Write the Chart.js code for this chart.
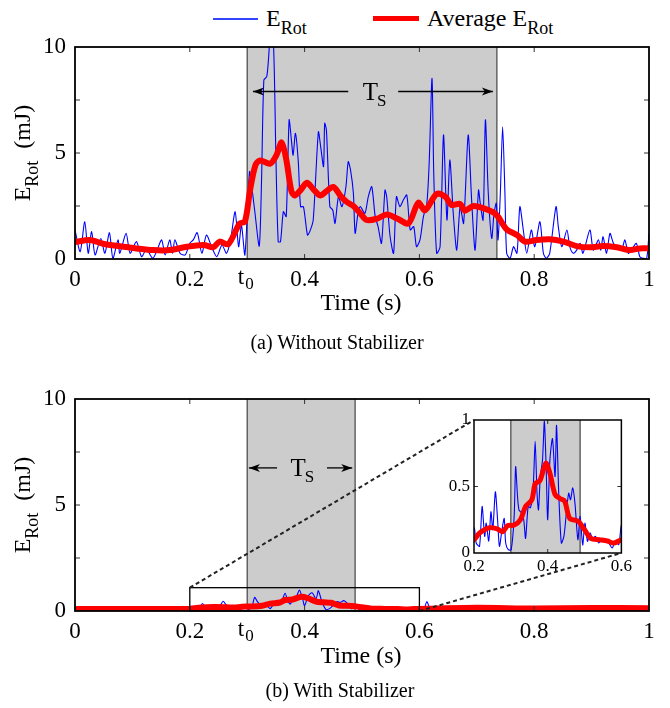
<!DOCTYPE html>
<html><head><meta charset="utf-8">
<script src="https://cdn.jsdelivr.net/npm/chart.js@4/dist/chart.umd.min.js"></script>
<style>
body{margin:0;background:#fff;width:670px;height:708px;position:relative;overflow:hidden;font-family:"Liberation Serif","Times New Roman",serif;color:#000}
.t{position:absolute;white-space:nowrap;line-height:1}
.c{transform:translate(-50%,-50%)}
.r{transform:translate(-50%,-50%) rotate(-90deg)}
sub{font-size:75%;vertical-align:-0.45em;line-height:0}
canvas{position:absolute}
</style></head><body>
<div class="t" style="left:213px;top:18px;width:45px;height:1.5px;background:#3344ff"></div>
<div class="t" style="left:266px;top:6px;font-size:24px">E<sub>Rot</sub></div>
<div class="t" style="left:373px;top:16px;width:46px;height:5px;background:#ff0000"></div>
<div class="t" style="left:427px;top:6px;font-size:24px">Average E<sub>Rot</sub></div>

<canvas id="cA" width="670" height="320" style="left:0;top:0"></canvas>
<canvas id="cB" width="670" height="320" style="left:0;top:355px"></canvas>
<canvas id="cI" width="205" height="175" style="left:430px;top:405px"></canvas>

<div class="t r" style="left:22px;top:153px;font-size:24px">E<sub>Rot</sub>&nbsp; (mJ)</div>
<div class="t r" style="left:22px;top:505px;font-size:24px">E<sub>Rot</sub>&nbsp; (mJ)</div>
<div class="t c" style="left:361px;top:302px;font-size:24px">Time (s)</div>
<div class="t c" style="left:361px;top:655px;font-size:24px">Time (s)</div>
<div class="t c" style="left:337px;top:342px;font-size:20px">(a) Without Stabilizer</div>
<div class="t c" style="left:340px;top:690px;font-size:20px">(b) With Stabilizer</div>

<script>
// ---------- data ----------
const xTicks = [0, 0.2, 0.4, 0.6, 0.8, 1];
const yTicks = [0, 5, 10];
const yMinorTicks = [2.5, 5, 7.5];
const insetXTicks = [0.2, 0.4, 0.6];
const insetYTicks = [0, 0.5, 1];
const t0 = 0.3;

// (a) without stabilizer: raw E_Rot
const tTopRaw = [0,0.009,0.017,0.023,0.029,0.035,0.045,0.052,0.060,0.066,0.075,0.078,0.089,0.096,0.107,0.116,0.125,0.131,0.136,0.143,0.151,0.157,0.165,0.170,0.174,0.183,0.192,0.200,0.206,0.213,0.221,0.229,0.238,0.247,0.256,0.264,0.271,0.279,0.285,0.290,0.296,
0.304,0.308,0.313,0.321,0.325,0.329,0.334,0.337,0.341,0.346,0.350,0.354,0.358,0.363,0.368,0.373,0.377,0.380,0.384,0.389,0.393,0.398,0.405,0.409,0.415,0.424,0.428,0.433,0.435,0.438,0.444,0.449,0.453,0.459,0.465,0.472,0.476,0.480,0.485,0.488,0.493,0.497,
0.505,0.511,0.517,0.523,0.528,0.534,0.540,0.543,0.549,0.555,0.560,0.566,0.572,0.578,0.584,0.590,0.595,0.601,0.607,0.613,0.617,0.622,0.625,0.630,0.636,0.642,0.648,0.653,0.659,0.665,0.671,0.677,0.685,0.691,0.697,0.703,0.706,0.711,0.715,0.720,0.726,0.730,0.734,0.737,0.741,0.745,0.749,
0.752,0.758,0.764,0.770,0.775,0.781,0.787,0.795,0.801,0.810,0.816,0.821,0.827,0.838,0.842,0.848,0.857,0.862,0.868,0.874,0.880,0.885,0.897,0.903,0.912,0.916,0.920,0.926,0.932,0.938,0.944,0.952,0.958,0.964,0.971,0.978,0.984,0.990,0.996,1.0];
const eTopRaw = [1.37,0.35,1.76,0.27,1.29,0.19,0.97,0.27,1.24,0.03,0.9,0.27,1.21,0.27,0.82,0.11,0.5,0.19,0.03,0.42,0.9,0.19,0.9,0.27,0.9,0.27,0.19,0.74,0.9,1.24,0.27,1.13,0.58,0.11,0.66,0.27,0.9,2.23,0.58,1.6,0.19,
4.12,3.4,2.3,0.61,3.73,8.44,8.6,9.39,10.8,10.0,4.83,0.82,0.82,2.23,2.0,6.56,5.61,4.9,5.93,4.59,2.47,2.47,1.13,1.29,1.84,6.0,5.3,4.36,6.4,6.08,2.47,2.31,1.68,2.94,2.47,3.41,4.59,4.2,3.1,1.21,2.15,2.47,
2.15,2.94,3.41,2.0,1.53,0.74,3.25,2.94,1.05,0.27,2.94,2.47,2.78,3.02,1.37,1.53,0.58,0.9,2.0,2.63,4.51,8.52,4.04,0.27,0.58,5.85,1.84,4.67,2.15,0.42,2.47,1.68,5.85,2.78,0.42,3.25,2.63,1.84,6.56,3.1,0.97,2.15,2.63,0.9,3.1,6.24,3.1,
0.27,0.03,0.58,0.27,2.47,1.37,0.27,1.37,0.58,1.76,0.27,0.03,0.27,2.47,1.53,0.58,1.37,0.58,0.27,0.42,0.74,0.27,1.37,0.42,0.9,0.42,1.05,0.27,1.21,0.74,0.58,0.42,0.9,0.27,0.5,0.74,0.11,0.03,0.03,1.21];

// (a) average E_Rot
const tTopAvg = [0,0.026,0.049,0.078,0.107,0.136,0.165,0.195,0.224,0.241,0.252,0.267,0.287,0.296,0.305,0.314,0.322,0.340,0.351,0.360,0.368,0.377,0.383,0.393,0.404,0.415,0.427,0.438,0.450,0.462,0.473,0.485,0.497,0.508,0.526,0.543,0.562,0.581,0.598,0.610,0.630,0.645,0.656,0.671,0.679,0.694,0.711,0.729,0.737,0.752,0.770,0.784,0.804,0.827,0.851,0.874,0.897,0.920,0.944,0.967,0.984,1.0];
const eTopAvg = [0.8,0.9,0.72,0.6,0.5,0.42,0.42,0.58,0.66,0.56,0.82,0.7,1.68,1.76,3.25,4.4,4.65,4.5,4.9,5.5,4.7,3.2,3.0,3.25,3.6,3.3,3.0,3.2,3.4,3.0,2.7,2.5,2.15,1.84,1.9,2.1,1.9,1.68,2.65,2.3,3.07,2.94,2.55,2.6,2.28,2.5,2.4,2.2,2.0,1.4,1.13,0.82,0.9,0.93,0.82,0.61,0.55,0.61,0.55,0.42,0.5,0.5];

// (b) with stabilizer: raw E_Rot
const tBotRaw = [0,0.02,0.04,0.06,0.08,0.10,0.12,0.14,0.16,0.18,
0.2,0.206,0.215,0.222,0.229,0.233,0.24,0.246,0.251,0.258,0.264,0.269,0.276,0.282,0.286,0.293,0.301,0.309,0.313,0.318,0.322,0.329,0.335,0.34,0.347,0.353,0.36,0.366,0.371,0.375,0.38,0.386,0.391,0.396,0.4,0.406,0.413,0.42,0.424,0.43,0.437,0.444,0.451,0.457,0.462,0.468,0.474,0.482,0.488,0.495,0.501,0.508,0.515,0.522,0.53,0.539,0.548,0.557,0.566,0.575,0.584,0.593,0.6,
0.608,0.613,0.62,0.64,0.66,0.68,0.70,0.72,0.74,0.76,0.78,0.80,0.82,0.84,0.86,0.88,0.90,0.92,0.94,0.96,0.98,1.0];
const eBotRaw = [0.08,0.12,0.05,0.1,0.04,0.09,0.14,0.05,0.1,0.06,
0.19,0.075,0.05,0.35,0.125,0.225,0.09,0.31,0.175,0.46,0.25,0.05,0.175,0.26,0.075,0.025,0.025,0.275,0.65,0.43,0.325,0.3,0.25,0.11,0.35,0.34,0.45,0.84,0.45,0.325,0.575,0.7,0.99,0.625,0.25,0.7,0.86,0.575,0.96,0.45,0.075,0.125,0.31,0.45,0.4,0.49,0.375,0.1,0.275,0.06,0.225,0.088,0.15,0.11,0.125,0.075,0.11,0.088,0.075,0.038,0.088,0.063,0.21,
0.1,0.44,0.08,0.12,0.06,0.15,0.1,0.22,0.08,0.18,0.05,0.12,0.2,0.1,0.15,0.05,0.18,0.08,0.16,0.06,0.2,0.1];

// (b) average E_Rot
const tBotAvg = [0,0.1,0.18,0.2,0.215,0.242,0.264,0.278,0.291,0.309,0.326,0.34,0.357,0.366,0.379,0.395,0.406,0.42,0.433,0.446,0.46,0.482,0.5,0.517,0.54,0.562,0.58,0.6,0.62,0.7,0.8,0.9,1.0];
const eBotAvg = [0.1,0.1,0.1,0.1,0.15,0.19,0.18,0.16,0.205,0.21,0.25,0.35,0.4,0.52,0.545,0.675,0.6,0.44,0.41,0.39,0.26,0.24,0.175,0.11,0.1,0.09,0.075,0.1,0.11,0.15,0.12,0.14,0.13];

const shadeTop = [0.3, 0.735];
const shadeBot = [0.3, 0.488];
const arrowTop = {y: 7.9, left: [0.476, 0.31], right: [0.563, 0.728], label: 0.523};
const arrowBot = {y: 6.75, left: [0.352, 0.303], right: [0.439, 0.483], label: 0.397};
const zoomWin = [0.2, 0.6];
const zoomMaxE = 1.1;

// ---------- helpers ----------
const SERIF = '"Liberation Serif","Times New Roman",serif';
Chart.defaults.font.family = SERIF;
Chart.defaults.color = '#000';
const pts = (t, e) => t.map((v, i) => ({x: v, y: e[i]}));
const fmt = v => String(Number(v.toFixed(2)));

function arrow(ctx, x1, x2, y) {
  ctx.beginPath(); ctx.moveTo(x1, y); ctx.lineTo(x2, y); ctx.stroke();
  const d = Math.sign(x2 - x1);
  ctx.beginPath(); ctx.moveTo(x2, y); ctx.lineTo(x2 - d * 11, y - 4); ctx.lineTo(x2 - d * 8, y); ctx.lineTo(x2 - d * 11, y + 4); ctx.closePath(); ctx.fill();
}

const decor = {
  id: 'decor',
  beforeDatasetsDraw(chart, args, o) {
    const {ctx, chartArea: a, scales: {x}} = chart;
    ctx.save();
    if (o.bg) { ctx.fillStyle = '#fff'; ctx.fillRect(a.left, a.top, a.width, a.height); }
    const x0 = x.getPixelForValue(o.shade[0]), x1 = x.getPixelForValue(o.shade[1]);
    ctx.fillStyle = '#cccccc'; ctx.fillRect(x0, a.top, x1 - x0, a.height);
    ctx.strokeStyle = '#444'; ctx.lineWidth = 1.2;
    [x0, x1].forEach(p => { ctx.beginPath(); ctx.moveTo(p, a.top); ctx.lineTo(p, a.bottom); ctx.stroke(); });
    ctx.restore();
  },
  afterDatasetsDraw(chart, args, o) {
    const {ctx, chartArea: a, scales: {x, y}} = chart;
    ctx.save();
    ctx.strokeStyle = '#333'; ctx.lineWidth = 1;
    o.xt.forEach(v => { const p = x.getPixelForValue(v); if (p <= a.left + 1 || p >= a.right - 1) return;
      ctx.beginPath(); ctx.moveTo(p, a.bottom); ctx.lineTo(p, a.bottom - o.tl); ctx.moveTo(p, a.top); ctx.lineTo(p, a.top + o.tl); ctx.stroke(); });
    o.yt.forEach(v => { const p = y.getPixelForValue(v); if (p <= a.top + 1 || p >= a.bottom - 1) return;
      ctx.beginPath(); ctx.moveTo(a.left, p); ctx.lineTo(a.left + o.tl, p); ctx.moveTo(a.right, p); ctx.lineTo(a.right - o.tl, p); ctx.stroke(); });
    if (o.zoom) {
      const zx0 = x.getPixelForValue(zoomWin[0]), zx1 = x.getPixelForValue(zoomWin[1]);
      const zy0 = y.getPixelForValue(0), zy1 = y.getPixelForValue(zoomMaxE);
      ctx.strokeStyle = '#000'; ctx.lineWidth = 1.3;
      ctx.strokeRect(zx0, zy1, zx1 - zx0, zy0 - zy1);
      const ia = insetChart.chartArea, dx = 430, dy = 405 - 355;
      ctx.setLineDash([4, 3]); ctx.lineWidth = 2; ctx.strokeStyle = '#222';
      ctx.beginPath(); ctx.moveTo(zx0, zy1); ctx.lineTo(ia.left + dx, ia.top + dy); ctx.stroke();
      ctx.beginPath(); ctx.moveTo(zx1, zy0); ctx.lineTo(ia.right + dx, ia.bottom + dy); ctx.stroke();
      ctx.setLineDash([]);
    }
    ctx.strokeStyle = '#000'; ctx.lineWidth = o.fw;
    ctx.strokeRect(a.left, a.top, a.width, a.height);
    if (o.arrow) {
      const ar = o.arrow, py = y.getPixelForValue(ar.y);
      ctx.fillStyle = '#000'; ctx.strokeStyle = '#000'; ctx.lineWidth = 1.3;
      arrow(ctx, x.getPixelForValue(ar.left[0]), x.getPixelForValue(ar.left[1]), py);
      arrow(ctx, x.getPixelForValue(ar.right[0]), x.getPixelForValue(ar.right[1]), py);
      ctx.font = `25px ${SERIF}`; const wT = ctx.measureText('T').width;
      ctx.font = `17px ${SERIF}`; const wS = ctx.measureText('S').width;
      const cx = x.getPixelForValue(ar.label) - (wT + wS) / 2;
      ctx.textBaseline = 'alphabetic'; ctx.textAlign = 'left';
      ctx.font = `25px ${SERIF}`; ctx.fillText('T', cx, py + 8.5);
      ctx.font = `17px ${SERIF}`; ctx.fillText('S', cx + wT - 1, py + 14);
    }
    if (o.t0) {
      const p = x.getPixelForValue(t0), ty = a.bottom + o.tp;
      ctx.font = `${o.fs}px ${SERIF}`; const wt = ctx.measureText('t').width;
      ctx.font = `${Math.round(o.fs * 0.72)}px ${SERIF}`; const w0 = ctx.measureText('0').width;
      const sx = p - (wt + w0) / 2 - 2;
      ctx.textBaseline = 'top'; ctx.textAlign = 'left'; ctx.fillStyle = '#000';
      ctx.font = `${o.fs}px ${SERIF}`; ctx.fillText('t', sx, ty);
      ctx.font = `${Math.round(o.fs * 0.72)}px ${SERIF}`; ctx.fillText('0', sx + wt + 1, ty + o.fs * 0.42);
    }
    ctx.restore();
  }
};

function mainChart(id, raw, avg, shade, arrowCfg, padTop, axisH, zoom) {
  return new Chart(document.getElementById(id), {
    type: 'line',
    data: { datasets: [
      { data: avg, borderColor: '#ff0000', borderWidth: 6, pointRadius: 0, tension: 0.3, order: 0, borderJoinStyle: 'round', borderCapStyle: 'round' },
      { data: raw, borderColor: '#0000ff', borderWidth: 1.1, pointRadius: 0, tension: 0.25, order: 1 }
    ]},
    options: {
      responsive: false, animation: false, events: [],
      layout: { padding: { top: padTop, right: 21, left: 0, bottom: 0 } },
      plugins: { legend: { display: false }, tooltip: { enabled: false },
        decor: { shade, arrow: arrowCfg, xt: xTicks, yt: yMinorTicks, tl: 5, fw: 1.8, t0: true, tp: 7, fs: 23, zoom } },
      scales: {
        x: { type: 'linear', min: 0, max: 1,
          afterBuildTicks: s => { s.ticks = xTicks.map(v => ({value: v})); },
          ticks: { callback: fmt, font: { size: 23 }, padding: 7, maxRotation: 0, autoSkip: false },
          grid: { display: false, drawTicks: false }, border: { display: false },
          afterFit: s => { s.height = axisH; } },
        y: { type: 'linear', min: 0, max: 10,
          afterBuildTicks: s => { s.ticks = yTicks.map(v => ({value: v})); },
          ticks: { callback: fmt, font: { size: 23 }, padding: 9 },
          grid: { display: false, drawTicks: false }, border: { display: false },
          afterFit: s => { s.width = 75; } }
      }
    },
    plugins: [decor]
  });
}

const insetChart = new Chart(document.getElementById('cI'), {
  type: 'line',
  data: { datasets: [
    { data: pts(tBotAvg, eBotAvg), borderColor: '#ff0000', borderWidth: 5, pointRadius: 0, tension: 0.3, order: 0, borderJoinStyle: 'round' },
    { data: pts(tBotRaw, eBotRaw), borderColor: '#0000ff', borderWidth: 1.1, pointRadius: 0, tension: 0.25, order: 1 }
  ]},
  options: {
    responsive: false, animation: false, events: [],
    layout: { padding: { top: 15, right: 11, left: 0, bottom: 0 } },
    plugins: { legend: { display: false }, tooltip: { enabled: false },
      decor: { bg: true, shade: shadeBot, xt: insetXTicks, yt: insetYTicks, tl: 4, fw: 1.5, t0: false } },
    scales: {
      x: { type: 'linear', min: 0.2, max: 0.6,
        afterBuildTicks: s => { s.ticks = insetXTicks.map(v => ({value: v})); },
        ticks: { callback: fmt, font: { size: 17 }, padding: 3, maxRotation: 0, autoSkip: false },
        grid: { display: false, drawTicks: false }, border: { display: false },
        afterFit: s => { s.height = 27; } },
      y: { type: 'linear', min: 0, max: 1,
        afterBuildTicks: s => { s.ticks = insetYTicks.map(v => ({value: v})); },
        ticks: { callback: fmt, font: { size: 17 }, padding: 4 },
        grid: { display: false, drawTicks: false }, border: { display: false },
        afterFit: s => { s.width = 44; } }
    }
  },
  plugins: [decor]
});

mainChart('cA', pts(tTopRaw, eTopRaw), pts(tTopAvg, eTopAvg), shadeTop, arrowTop, 47, 61, false);
mainChart('cB', pts(tBotRaw, eBotRaw), pts(tBotAvg, eBotAvg), shadeBot, arrowBot, 44, 64, true);
</script>
</body></html>
